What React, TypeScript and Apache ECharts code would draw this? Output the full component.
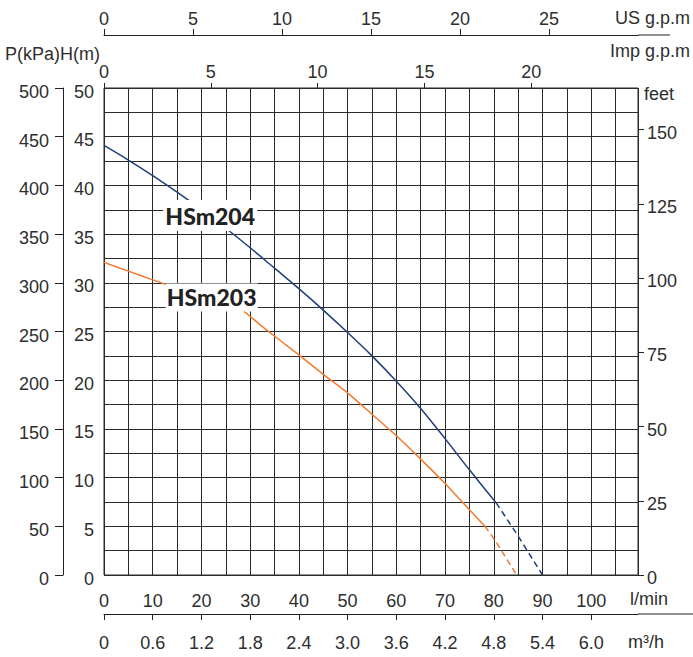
import React, { useEffect, useRef } from "react";
import * as echarts from "echarts";

// ---- data ----
const seriesNames = ["HSm204", "HSm203"];
// HSm204 (solid part)
const flow204 = [0, 5, 10, 15, 20, 25, 30, 35, 40, 45, 50, 55, 60, 65, 70, 75, 80.5];
const head204 = [44.1, 42.6, 41.0, 39.3, 37.5, 35.6, 33.6, 31.5, 29.4, 27.2, 24.9, 22.5, 19.9, 17.1, 14.0, 10.8, 7.4];
// HSm204 (dashed extrapolation)
const flow204Dash = [80.5, 85, 90];
const head204Dash = [7.4, 4.0, 0];
// HSm203 (solid part)
const flow203 = [0, 5, 10, 13, 20, 26, 33, 40, 45, 50, 55, 60, 65, 70, 75, 78.2];
const head203 = [32.1, 31.2, 30.3, 29.8, 28.9, 28.1, 25.3, 22.6, 20.6, 18.7, 16.5, 14.3, 11.9, 9.4, 6.7, 5.0];
// HSm203 (dashed extrapolation)
const flow203Dash = [78.2, 80.2, 84.7];
const head203Dash = [5.0, 3.6, 0];
// label anchor positions (flow, head)
const labelAt204 = [21.8, 36.9];
const labelAt203 = [22.1, 28.5];

// axis ticks
const lpmTicks = [0, 10, 20, 30, 40, 50, 60, 70, 80, 90, 100];
const m3hTicks = [0, 0.6, 1.2, 1.8, 2.4, 3.0, 3.6, 4.2, 4.8, 5.4, 6.0];
const impTicks = [0, 5, 10, 15, 20];
const usTicks = [0, 5, 10, 15, 20, 25];
const headTicks = [0, 5, 10, 15, 20, 25, 30, 35, 40, 45, 50];
const kpaTicks = [0, 50, 100, 150, 200, 250, 300, 350, 400, 450, 500];
const feetTicks = [0, 25, 50, 75, 100, 125, 150];

const LPM_MAX = 109.6;
const H_MAX = 50;

const pairs = (xs: number[], ys: number[]) => xs.map((x, i) => [x, ys[i]]);

const TXT = "#2e2e2e";
const FONT = "Liberation Sans";
const NAVY = "#1d3d7d";
const ORANGE = "#f37a2d";
const GRIDC = "#2a2a2a";

export default function App() {
  const ref = useRef<HTMLDivElement>(null);
  useEffect(() => {
    if (!ref.current) return;
    const chart = echarts.init(ref.current, null, { renderer: "svg" });
    const lbl = { color: TXT, fontFamily: FONT, fontSize: 18 };
    const nameLabel = (name: string) => ({
      show: true,
      position: "inside",
      formatter: name,
      color: "#222",
      fontFamily: "Lato",
      fontWeight: 900,
      fontSize: 23,
    });
    const axLine = { show: true, onZero: false, lineStyle: { color: "#222", width: 1 } };
    const noLine = { show: false, onZero: false };
    chart.setOption({
      animation: false,
      backgroundColor: "#fff",
      grid: {
        left: 104,
        top: 88,
        width: 534,
        height: 487,
        show: true,
        borderColor: GRIDC,
        borderWidth: 1,
        containLabel: false,
      },
      xAxis: [
        {
          type: "value",
          position: "bottom",
          min: 0,
          max: LPM_MAX,
          interval: 5,
          axisLine: noLine,
          axisTick: { show: false },
          splitLine: { show: true, lineStyle: { color: GRIDC, width: 1 } },
          axisLabel: { ...lbl, customValues: lpmTicks, margin: 17 },
        },
        {
          type: "value",
          position: "top",
          min: 0,
          max: 25,
          axisLine: noLine,
          axisTick: { show: true, length: 5, customValues: impTicks, lineStyle: { color: "#222" } },
          splitLine: { show: false },
          axisLabel: { ...lbl, customValues: impTicks, margin: 7 },
        },
        {
          type: "value",
          position: "top",
          offset: 53,
          min: 0,
          max: 30,
          axisLine: axLine,
          axisTick: { show: true, length: 6, customValues: usTicks, lineStyle: { color: "#222" } },
          splitLine: { show: false },
          axisLabel: { ...lbl, customValues: usTicks, margin: 7 },
        },
        {
          type: "value",
          position: "bottom",
          offset: 39,
          min: 0,
          max: LPM_MAX * 0.06,
          axisLine: axLine,
          axisTick: { show: true, length: 6, customValues: m3hTicks, lineStyle: { color: "#222" } },
          splitLine: { show: false },
          axisLabel: {
            ...lbl,
            customValues: m3hTicks,
            margin: 20,
            formatter: (v: number) => (v === 0 ? "0" : v.toFixed(1)),
          },
        },
      ],
      yAxis: [
        {
          type: "value",
          position: "left",
          min: 0,
          max: H_MAX,
          interval: 2.5,
          axisLine: noLine,
          axisTick: { show: false },
          splitLine: { show: true, lineStyle: { color: GRIDC, width: 1 } },
          axisLabel: { ...lbl, customValues: headTicks, margin: 10, verticalAlign: "top", lineHeight: 7 },
        },
        {
          type: "value",
          position: "left",
          offset: 41,
          min: 0,
          max: 500,
          axisLine: axLine,
          axisTick: { show: true, length: 8, customValues: kpaTicks, lineStyle: { color: "#222" } },
          splitLine: { show: false },
          axisLabel: { ...lbl, customValues: kpaTicks, margin: 14, verticalAlign: "top", lineHeight: 8 },
        },
        {
          type: "value",
          position: "right",
          min: 0,
          max: H_MAX / 0.3048,
          axisLine: noLine,
          axisTick: { show: true, length: 6, customValues: feetTicks, lineStyle: { color: "#222" } },
          splitLine: { show: false },
          axisLabel: { ...lbl, customValues: feetTicks, margin: 9, verticalAlign: "top", lineHeight: 6 },
        },
      ],
      series: [
        {
          name: seriesNames[0],
          type: "line",
          xAxisIndex: 0,
          yAxisIndex: 0,
          data: pairs(flow204, head204),
          symbol: "none",
          smooth: 0.3,
          lineStyle: { color: NAVY, width: 1.5 },
          z: 3,
          markPoint: {
            symbol: "rect",
            symbolSize: [94, 31],
            itemStyle: { color: "#fff" },
            label: nameLabel(seriesNames[0]),
            data: [{ coord: labelAt204 }],
            z: 5,
          },
        },
        {
          name: seriesNames[0] + " ext",
          type: "line",
          xAxisIndex: 0,
          yAxisIndex: 0,
          data: pairs(flow204Dash, head204Dash),
          symbol: "none",
          lineStyle: { color: NAVY, width: 1.5, type: [6, 4] },
          z: 3,
        },
        {
          name: seriesNames[1],
          type: "line",
          xAxisIndex: 0,
          yAxisIndex: 0,
          data: pairs(flow203, head203),
          symbol: "none",
          smooth: 0.2,
          lineStyle: { color: ORANGE, width: 1.5 },
          z: 3,
          markPoint: {
            symbol: "rect",
            symbolSize: [92, 28],
            itemStyle: { color: "#fff" },
            label: nameLabel(seriesNames[1]),
            data: [{ coord: labelAt203 }],
            z: 5,
          },
        },
        {
          name: seriesNames[1] + " ext",
          type: "line",
          xAxisIndex: 0,
          yAxisIndex: 0,
          data: pairs(flow203Dash, head203Dash),
          symbol: "none",
          lineStyle: { color: ORANGE, width: 1.5, type: [6, 4] },
          z: 3,
        },
      ],
      graphic: [
        { type: "line", shape: { x1: 638, y1: 35, x2: 670, y2: 35 }, style: { stroke: "#222", lineWidth: 1 } },
        { type: "line", shape: { x1: 638, y1: 614, x2: 693, y2: 614 }, style: { stroke: "#222", lineWidth: 1 } },
        { type: "text", x: 690, y: 18, style: { text: "US g.p.m", fill: TXT, font: `18px ${FONT}`, align: "right", verticalAlign: "middle" } },
        { type: "text", x: 690, y: 51, style: { text: "Imp g.p.m", fill: TXT, font: `18px ${FONT}`, align: "right", verticalAlign: "middle" } },
        { type: "text", x: 5, y: 54, style: { text: "P(kPa)H(m)", fill: TXT, font: `18px ${FONT}`, align: "left", verticalAlign: "middle" } },
        { type: "text", x: 644, y: 94, style: { text: "feet", fill: TXT, font: `18px ${FONT}`, align: "left", verticalAlign: "middle" } },
        { type: "text", x: 630, y: 599, style: { text: "l/min", fill: TXT, font: `18px ${FONT}`, align: "left", verticalAlign: "middle" } },
        { type: "text", x: 628, y: 642, style: { text: "m³/h", fill: TXT, font: `18px ${FONT}`, align: "left", verticalAlign: "middle" } },
      ],
    });
    return () => chart.dispose();
  }, []);
  return <div ref={ref} style={{ position: "fixed", left: 0, top: 0, width: 693, height: 657 }} />;
}
